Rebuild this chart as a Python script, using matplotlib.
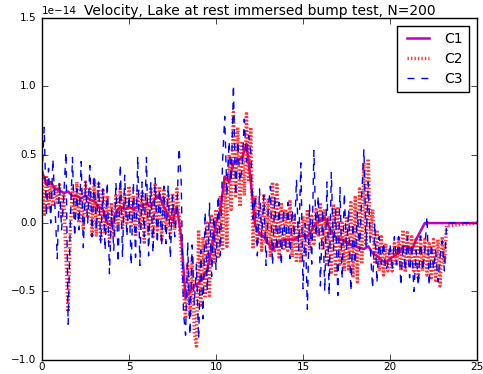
import numpy as np
import matplotlib
matplotlib.use("Agg")
import matplotlib.pyplot as plt

################################################################################
# data (units of 1e-14)
# C1 on a 0.25 grid, from x=0 to x=25
c1 = [0.38, 0.28, 0.30, 0.25, 0.24, 0.22, 0.23, 0.20,
      0.20, 0.18, 0.20, 0.17, 0.16, 0.12, 0.10, 0.00,
      -0.02, 0.08, 0.12, 0.10, 0.12, 0.10, 0.12, 0.13,
      0.14, 0.12, 0.18, 0.20, 0.12, 0.06, 0.02, 0.12,
      -0.10, -0.55, -0.50, -0.46, -0.44, -0.40, -0.34, -0.18,
      0.00, 0.10, 0.34, 0.30, 0.44, 0.46, 0.48, 0.58,
      0.30, -0.02, -0.08, -0.10, -0.15, -0.20, -0.15, -0.13,
      -0.12, -0.12, -0.12, -0.10, -0.09, -0.10, -0.05, 0.00,
      0.02, 0.04, -0.03, -0.08, -0.12, -0.12, -0.14, -0.16,
      -0.17, -0.18, -0.19, -0.17, -0.22, -0.24, -0.27, -0.29,
      -0.26, -0.24, -0.22, -0.17, -0.17, -0.20, -0.12, -0.06,
      0.00, 0.00, 0.00, 0.00, 0.00, 0.00, 0.00, 0.00,
      0.00, 0.00, 0.00, 0.00, 0.00]

# C2 and C3 on a 0.125 grid, x=0 .. 23.25, then flat to x=25
c2 = [0.30, 0.05, 0.35, 0.10, 0.30, 0.12, 0.28, 0.15,
      0.28, 0.05, 0.20, -0.25, -0.65, -0.05, 0.25, 0.05,
      0.30, 0.00, 0.25, -0.05, 0.30, 0.05, 0.25, -0.10,
      0.32, -0.10, 0.30, -0.12, 0.25, -0.08, 0.20, -0.15,
      0.15, -0.10, 0.20, 0.00, 0.25, -0.05, 0.22, 0.00,
      0.27, -0.02, 0.20, -0.10, 0.25, -0.05, 0.22, -0.14,
      0.22, -0.08, 0.25, -0.10, 0.28, -0.05, 0.27, -0.12,
      0.25, -0.05, 0.20, -0.10, 0.22, -0.05, 0.25, 0.05,
      -0.20, -0.45, -0.70, -0.30, -0.68, -0.25, -0.80, -0.90,
      -0.05, -0.60, -0.10, -0.55, 0.00, -0.53, 0.05, -0.30,
      0.10, -0.26, 0.20, -0.20, 0.34, -0.17, 0.50, 0.10,
      0.81, 0.20, 0.70, 0.12, 0.60, 0.20, 0.80, 0.30,
      0.70, -0.19, 0.20, -0.15, 0.15, -0.20, 0.20, -0.15,
      0.18, -0.25, 0.30, -0.20, 0.28, -0.25, 0.15, -0.20,
      0.10, -0.20, 0.17, -0.25, 0.05, -0.29, 0.00, -0.29,
      0.05, -0.25, 0.10, -0.20, 0.05, -0.15, 0.10, -0.10,
      0.15, -0.20, 0.10, -0.30, 0.05, -0.36, 0.14, -0.39,
      0.12, -0.30, 0.00, -0.35, 0.05, -0.35, 0.15, -0.40,
      0.20, -0.43, 0.25, -0.30, 0.44, -0.15, 0.47, -0.10,
      0.10, -0.30, -0.05, -0.35, -0.10, -0.38, -0.15, -0.35,
      -0.20, -0.35, -0.15, -0.30, -0.10, -0.35, -0.05, -0.36,
      -0.07, -0.30, -0.10, -0.35, -0.12, -0.40, -0.10, -0.35,
      -0.12, -0.38, -0.15, -0.40, -0.12, -0.42, -0.12, -0.46,
      -0.10, -0.30, -0.02, 0.00]

c3 = [0.35, 0.70, 0.05, 0.40, 0.00, 0.47, 0.10, -0.26,
      0.30, -0.05, 0.20, 0.52, -0.74, 0.00, 0.48, -0.10,
      0.25, -0.05, 0.45, -0.18, 0.30, 0.00, 0.42, -0.10,
      0.35, -0.05, 0.30, -0.15, 0.25, -0.20, 0.30, -0.37,
      0.10, -0.20, 0.30, -0.29, 0.43, -0.25, 0.35, -0.10,
      0.20, -0.31, 0.30, -0.25, 0.49, -0.31, 0.30, -0.10,
      0.48, -0.24, 0.30, -0.22, 0.33, -0.15, 0.25, -0.17,
      0.27, -0.15, 0.28, -0.26, 0.20, -0.10, 0.10, 0.55,
      0.30, -0.65, -0.82, -0.14, -0.82, -0.16, -0.60, -0.30,
      -0.85, -0.20, -0.70, 0.08, -0.50, 0.15, -0.39, 0.05,
      -0.34, 0.20, -0.24, 0.45, 0.78, 0.20, 0.60, 0.30,
      1.01, 0.20, 0.60, 0.30, 0.40, 0.76, 0.45, 0.64,
      0.52, 0.03, 0.20, -0.24, 0.25, -0.10, 0.20, -0.31,
      0.10, 0.27, -0.31, 0.20, -0.20, 0.15, -0.31, 0.10,
      -0.20, 0.15, -0.26, 0.10, -0.10, 0.32, -0.20, 0.44,
      -0.48, 0.00, -0.63, 0.14, -0.30, 0.53, -0.10, 0.20,
      -0.46, 0.10, -0.50, 0.30, -0.53, 0.37, -0.20, 0.10,
      -0.53, 0.26, -0.41, 0.22, -0.20, 0.10, -0.50, 0.00,
      -0.30, 0.08, -0.20, 0.20, 0.54, -0.17, 0.30, -0.20,
      -0.48, 0.00, -0.44, -0.10, -0.30, -0.14, -0.35, -0.30,
      -0.15, -0.35, -0.10, -0.30, -0.10, -0.46, -0.15, -0.35,
      -0.10, -0.40, -0.15, -0.50, -0.20, -0.46, -0.10, -0.35,
      -0.20, 0.05, -0.46, -0.15, -0.34, -0.20, -0.43, -0.25,
      -0.13, -0.35, 0.00, 0.00]

x1 = np.arange(len(c1)) * 0.25
x23 = np.append(np.arange(len(c2) - 1) * 0.125, 25.0)
scale = 1e-14

################################################################################
# plot, classic look
plt.style.use('classic')
plt.rcParams['font.family'] = 'DejaVu Sans'
plt.rcParams['lines.scale_dashes'] = False

fig = plt.figure(figsize=(4.83, 3.74), dpi=100, facecolor='white')
ax = fig.add_axes([0.087, 0.038, 0.9006, 0.914])

ax.plot(x1, np.array(c1) * scale, color='m', lw=1.8, label='C1')
ax.plot(x23, np.array(c2) * scale, color='r', lw=2.5, ls=(0, (1, 1.5)),
        alpha=0.8, label='C2')
ax.plot(x23, np.array(c3) * scale, color='b', lw=1, ls=(0, (5, 5)),
        label='C3')

ax.set_xlim(0, 25)
ax.set_ylim(-1.0e-14, 1.5e-14)
ax.set_xticks([0, 5, 10, 15, 20, 25])
ax.set_yticks(np.array([-1.0, -0.5, 0.0, 0.5, 1.0, 1.5]) * scale)
ax.tick_params(labelsize=7.5)
ax.tick_params(axis='x', pad=1.5)
ax.yaxis.get_offset_text().set_fontsize(7.5)
ax.set_title('Velocity, Lake at rest immersed bump test, N=200', fontsize=10, pad=2)
ax.legend(loc='upper right', fontsize=10, handlelength=2.2, labelspacing=0.45,
          borderaxespad=0.6)

fig.savefig('out.png', dpi=100, facecolor='white')
